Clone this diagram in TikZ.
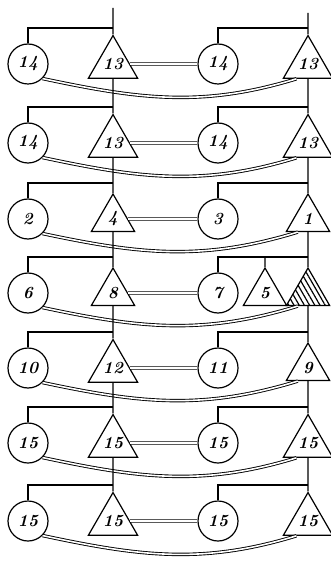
\documentclass[tikz,border=0pt]{standalone}
\usepackage{amsmath}
\usepackage{tikz}
\usetikzlibrary{shapes.geometric,patterns.meta}

\begin{document}
\begin{tikzpicture}[x=1pt, y=-1pt, line width=1.2pt,
  circ/.style = {draw, circle, fill=white, minimum size=40pt, inner sep=0pt, font=\fontsize{17}{19}\selectfont\bfseries\itshape},
  tri/.style = {draw, regular polygon, regular polygon sides=3, fill=white, minimum size=50pt, inner sep=0pt, font=\fontsize{17}{19}\selectfont\bfseries\itshape},
  dbl/.style = {double, double distance=1.6pt, line width=0.9pt}]
\useasboundingbox (0,0) rectangle (330,561);

% row 1
\node[circ] (a1) at (28,64) {14};
\node[tri] (b1) at (113,64) {13};
\node[circ] (c1) at (218,64) {14};
\node[tri] (d1) at (308,64) {13};
% row 2
\node[circ] (a2) at (28,143) {14};
\node[tri] (b2) at (113,143) {13};
\node[circ] (c2) at (218,143) {14};
\node[tri] (d2) at (308,143) {13};
% row 3
\node[circ] (a3) at (28,219) {2};
\node[tri] (b3) at (113,219) {4};
\node[circ] (c3) at (218,219) {3};
\node[tri] (d3) at (308,219) {1};
% row 4
\node[circ] (a4) at (28,293) {6};
\node[tri] (b4) at (113,293) {8};
\node[circ] (c4) at (218,293) {7};
\node[tri] (e4) at (265,293) {5};
\node[tri, pattern={Lines[angle=-60,distance=4.5pt,line width=1.2pt]}] (d4) at (308,293) {};
% row 5
\node[circ] (a5) at (28,368) {10};
\node[tri] (b5) at (113,368) {12};
\node[circ] (c5) at (218,368) {11};
\node[tri] (d5) at (308,368) {9};
% row 6
\node[circ] (a6) at (28,443) {15};
\node[tri] (b6) at (113,443) {15};
\node[circ] (c6) at (218,443) {15};
\node[tri] (d6) at (308,443) {15};
% row 7
\node[circ] (a7) at (28,521) {15};
\node[tri] (b7) at (113,521) {15};
\node[circ] (c7) at (218,521) {15};
\node[tri] (d7) at (308,521) {15};

% feeder ends and taps
\coordinate (tb) at (113,8);
\coordinate (td) at (308,13);
\coordinate (hb1) at (113,28);  \coordinate (hd1) at (308,28);
\coordinate (hb2) at (113,107); \coordinate (hd2) at (308,107);
\coordinate (hb3) at (113,183); \coordinate (hd3) at (308,183);
\coordinate (hb4) at (113,257); \coordinate (hd4) at (308,257);
\coordinate (he4) at (265,257);
\coordinate (hb5) at (113,332); \coordinate (hd5) at (308,332);
\coordinate (hb6) at (113,407); \coordinate (hd6) at (308,407);
\coordinate (hb7) at (113,485); \coordinate (hd7) at (308,485);

% double links
\draw[dbl] (b1) -- (c1);
\draw[dbl] (b2) -- (c2);
\draw[dbl] (b3) -- (c3);
\draw[dbl] (b4) -- (c4);
\draw[dbl] (b5) -- (c5);
\draw[dbl] (b6) -- (c6);
\draw[dbl] (b7) -- (c7);
\draw[dbl] (a1.-45) to[out=-12,in=197] (d1.232);
\draw[dbl] (a2.-45) to[out=-12,in=197] (d2.232);
\draw[dbl] (a3.-45) to[out=-12,in=197] (d3.232);
\draw[dbl] (a4.-45) to[out=-12,in=197] (d4.232);
\draw[dbl] (a5.-45) to[out=-12,in=197] (d5.232);
\draw[dbl] (a6.-45) to[out=-12,in=197] (d6.232);
\draw[dbl] (a7.-45) to[out=-12,in=197] (d7.232);

% left column
\draw (tb) -- (b1.north);
\draw (b1.south) -- (b2.north);
\draw (b2.south) -- (b3.north);
\draw (b3.south) -- (b4.north);
\draw (b4.south) -- (b5.north);
\draw (b5.south) -- (b6.north);
\draw (b6.south) -- (b7.north);
% right column
\draw (td) -- (d1.north);
\draw (d1.south) -- (d2.north);
\draw (d2.south) -- (d3.north);
\draw (d3.south) -- (d4.north);
\draw (d4.south) -- (d5.north);
\draw (d5.south) -- (d6.north);
\draw (d6.south) -- (d7.north);

% taps
\draw (a1.north) |- (hb1); \draw (c1.north) |- (hd1);
\draw (a2.north) |- (hb2); \draw (c2.north) |- (hd2);
\draw (a3.north) |- (hb3); \draw (c3.north) |- (hd3);
\draw (a4.north) |- (hb4); \draw (c4.north) |- (hd4);
\draw (he4) -- (e4.north);
\draw (a5.north) |- (hb5); \draw (c5.north) |- (hd5);
\draw (a6.north) |- (hb6); \draw (c6.north) |- (hd6);
\draw (a7.north) |- (hb7); \draw (c7.north) |- (hd7);
\end{tikzpicture}
\end{document}
